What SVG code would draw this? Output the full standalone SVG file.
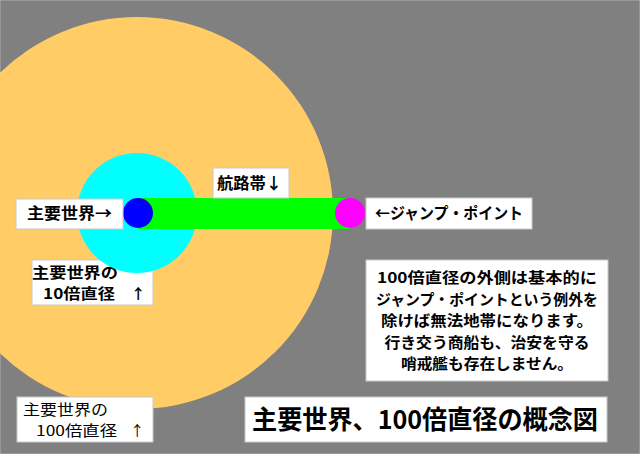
<svg xmlns="http://www.w3.org/2000/svg" width="640" height="454" viewBox="0 0 640 454">
<style>
.box{fill:#ffffff;stroke:#c8c8c8;stroke-width:1}
.t{font-family:"Noto Sans CJK JP","Noto Sans",sans-serif;fill:#000000;font-weight:bold}
.r{font-weight:normal}
</style>
<rect x="0" y="0" width="640" height="454" fill="#808080" stroke="#b0b0b0" stroke-width="1"/>
<g id="zone100"><circle cx="137" cy="213" r="196" fill="#ffcc66"/></g>
<g id="label10">
<rect class="box" x="32" y="260" width="121" height="45"/>
<text class="t" x="32" y="278" font-size="14.4" textLength="86" lengthAdjust="spacingAndGlyphs">主要世界の</text>
<text class="t" x="43" y="299" font-size="14.4" textLength="72" lengthAdjust="spacingAndGlyphs">10倍直径</text>
<text class="t" x="131" y="299" font-size="14.4">↑</text>
</g>
<g id="zone10"><circle cx="137" cy="213" r="60" fill="#00ffff"/></g>
<g id="connectors"><rect x="138" y="198" width="212" height="31" fill="#00ff00"/></g>
<g id="world"><circle cx="138" cy="213" r="15" fill="#0000ff"/></g>
<g id="jump"><circle cx="350" cy="213" r="15" fill="#ff00ff"/></g>
<g id="labelWorld">
<rect class="box" x="16" y="199" width="107" height="30"/>
<text class="t" x="27" y="219" font-size="16" textLength="85" lengthAdjust="spacingAndGlyphs">主要世界→</text>
</g>
<g id="labelRoute">
<rect class="box" x="213" y="168" width="76" height="30"/>
<text class="t" x="217" y="189" font-size="16" textLength="65" lengthAdjust="spacingAndGlyphs">航路帯↓</text>
</g>
<g id="labelJump">
<rect class="box" x="366" y="198" width="166" height="31"/>
<text class="t" x="375" y="219" font-size="16" textLength="148" lengthAdjust="spacingAndGlyphs">←ジャンプ・ポイント</text>
</g>
<g id="note">
<rect class="box" x="366" y="260" width="242" height="121"/>
<g class="t" font-size="14.8" text-anchor="middle">
<text x="487" y="283" textLength="220" lengthAdjust="spacingAndGlyphs">100倍直径の外側は基本的に</text>
<text x="487" y="304.5" textLength="222" lengthAdjust="spacingAndGlyphs">ジャンプ・ポイントという例外を</text>
<text x="487" y="326" textLength="212" lengthAdjust="spacingAndGlyphs">除けば無法地帯になります。</text>
<text x="487" y="347.5" textLength="205" lengthAdjust="spacingAndGlyphs">行き交う商船も、治安を守る</text>
<text x="487" y="369" textLength="172" lengthAdjust="spacingAndGlyphs">哨戒艦も存在しません。</text>
</g>
</g>
<g id="label100">
<rect class="box" x="17" y="397" width="136" height="45"/>
<text class="t r" x="23" y="415" font-size="14.4" textLength="85" lengthAdjust="spacingAndGlyphs">主要世界の</text>
<text class="t r" x="36" y="436" font-size="14.4" textLength="81" lengthAdjust="spacingAndGlyphs">100倍直径</text>
<text class="t r" x="130" y="436" font-size="14.4">↑</text>
</g>
<g id="title">
<rect class="box" x="245" y="397" width="362" height="45"/>
<text class="t" x="252" y="429" font-size="26" textLength="346" lengthAdjust="spacingAndGlyphs">主要世界、100倍直径の概念図</text>
</g>
</svg>
